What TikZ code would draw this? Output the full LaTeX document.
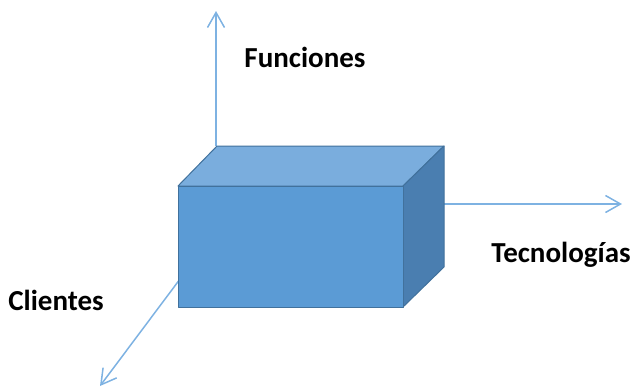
\documentclass[tikz,border=0pt]{standalone}
\usepackage{fontspec}
\setmainfont{Carlito}
\usetikzlibrary{arrows.meta}
\definecolor{axisblue}{HTML}{7EB2E2}
\definecolor{frontblue}{HTML}{5B9BD5}
\definecolor{topblue}{HTML}{7AADDD}
\definecolor{sideblue}{HTML}{4A7EB0}
\definecolor{edgeblue}{HTML}{41719C}

\begin{document}
\begin{tikzpicture}[x=1pt, y=-1pt,
    axis/.style={draw=axisblue, line width=1.5pt,
        -{Straight Barb[length=15pt, width=17pt, line width=1.5pt]}},
    face/.style={draw=edgeblue, line width=1pt, line join=round},
    axislabel/.style={font=\fontsize{29}{31}\selectfont\bfseries, text=black, inner sep=0pt}]
    \useasboundingbox (0,0) rectangle (634,389);

    % Corners of the box
    \coordinate (fa) at (178,186);
    \coordinate (fb) at (403,186);
    \coordinate (fc) at (403,307);
    \coordinate (fd) at (178,307);
    \coordinate (ba) at (217,146);
    \coordinate (bb) at (444,146);
    \coordinate (bc) at (444,267);

    % Ends of the axes
    \coordinate (up0)    at (216,146);
    \coordinate (up1)    at (216,11);
    \coordinate (right0) at (444,204);
    \coordinate (right1) at (622,204);
    \coordinate (down0)  at (195,259);
    \coordinate (down1)  at (100,386);

    % Draw the axes
    \draw[axis] (up0) -- (up1);
    \draw[axis] (right0) -- (right1);
    \draw[axis] (down0) -- (down1);

    % Draw the box
    \filldraw[face, fill=topblue]   (fa) -- (ba) -- (bb) -- (fb) -- cycle;
    \filldraw[face, fill=sideblue]  (fb) -- (bb) -- (bc) -- (fc) -- cycle;
    \filldraw[face, fill=frontblue] (fa) -- (fb) -- (fc) -- (fd) -- cycle;

    % Labels
    \node[axislabel] (funciones)   at (305,57)  {Funciones};
    \node[axislabel] (tecnologias) at (561,255) {Tecnologías};
    \node[axislabel] (clientes)    at (56,300)  {Clientes};
\end{tikzpicture}
\end{document}
